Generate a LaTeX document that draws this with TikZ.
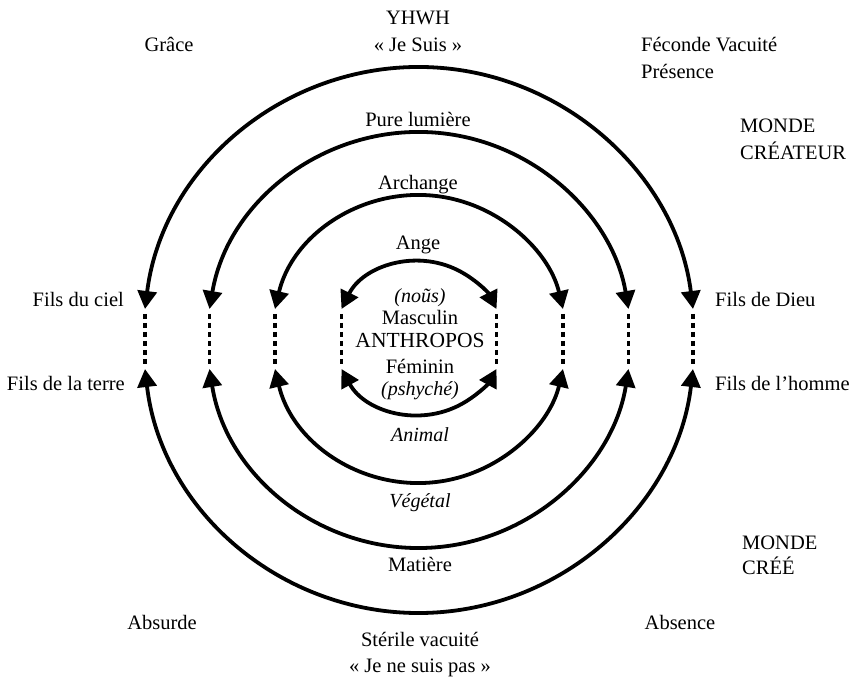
\documentclass[tikz,border=0pt]{standalone}
\usepackage{fontspec}
\setmainfont{Liberation Serif}
\usetikzlibrary{arrows.meta}
\begin{document}
\begin{tikzpicture}[x=1pt,y=1pt,
  ring/.style={line width=3.8pt, {Triangle[length=18pt,width=19pt]}-{Triangle[length=18pt,width=19pt]}},
  dotline/.style={line width=3.8pt, dash pattern=on 5pt off 4pt, shorten <=5pt, shorten >=5pt},
  lbl/.style={inner sep=0pt, font=\fontsize{20.5}{24}\selectfont},
  itl/.style={inner sep=0pt, font=\fontsize{20}{24}\selectfont\itshape},
  big/.style={inner sep=0pt, font=\fontsize{21.5}{26}\selectfont}]
\useasboundingbox (0,0) rectangle (860,680);
% ring end points
\coordinate (TL1) at (145,371);   \coordinate (TR1) at (693,371);
\coordinate (BL1) at (145,311);   \coordinate (BR1) at (693,311);
\coordinate (TL2) at (209.5,371); \coordinate (TR2) at (628.5,371);
\coordinate (BL2) at (209.5,311); \coordinate (BR2) at (628.5,311);
\coordinate (TL3) at (275,371);   \coordinate (TR3) at (563,371);
\coordinate (BL3) at (275,311);   \coordinate (BR3) at (563,311);
\coordinate (TL4) at (341.5,371); \coordinate (TR4) at (496.5,371);
\coordinate (BL4) at (341.5,311); \coordinate (BR4) at (496.5,311);
% upper arcs
\draw[ring] (TL1) arc[start angle=172.90, end angle=7.10, radius=276.12];
\draw[ring] (TL2) arc[start angle=170.39, end angle=9.61, radius=212.48];
\draw[ring] (TL3) arc[start angle=166.73, end angle=13.27, radius=147.95];
\draw[ring] (TL4) arc[start angle=153.54, end angle=26.46, radius=86.57];
% lower arcs
\draw[ring] (BL1) arc[start angle=186.63, end angle=353.37, radius=275.84];
\draw[ring] (BL2) arc[start angle=188.98, end angle=351.02, radius=212.10];
\draw[ring] (BL3) arc[start angle=193.27, end angle=346.73, radius=147.95];
\draw[ring] (BL4) arc[start angle=208.62, end angle=331.38, radius=88.29];
% dotted links
\foreach \i in {1,2,3,4}{
  \draw[dotline] (TL\i) -- (BL\i);
  \draw[dotline] (TR\i) -- (BR\i);
}
% top texts
\node[lbl, anchor=base] (yhwh) at (418,655) {YHWH};
\node[lbl, anchor=base] (jesuis) at (418,628) {« Je Suis »};
\node[lbl, anchor=base] (grace) at (169,628) {Grâce};
\node[lbl, anchor=base west] (feconde) at (641,628) {Féconde Vacuité};
\node[lbl, anchor=base west] (presence) at (641,601) {Présence};
\node[lbl, anchor=base west] (monde1) at (740,547) {MONDE};
\node[lbl, anchor=base west] (createur) at (740,520) {CRÉATEUR};
% ring labels
\node[lbl, anchor=base] (pure) at (418,553) {Pure lumière};
\node[lbl, anchor=base] (archange) at (418,490) {Archange};
\node[lbl, anchor=base] (ange) at (418,430) {Ange};
\node[itl, anchor=base] (nous) at (420,377) {(noũs)};
\node[lbl, anchor=base] (masc) at (420,355) {Masculin};
\node[big, anchor=base] (anthr) at (420,332) {ANTHROPOS};
\node[lbl, anchor=base] (fem) at (420,306) {Féminin};
\node[itl, anchor=base] (psy) at (420,284) {(pshyché)};
\node[itl, anchor=base] (animal) at (420,238) {Animal};
\node[itl, anchor=base] (vegetal) at (420,172) {Végétal};
\node[lbl, anchor=base] (matiere) at (420,108) {Matière};
% bottom texts
\node[lbl, anchor=base] (sterile) at (420,33) {Stérile vacuité};
\node[lbl, anchor=base] (jenesuis) at (420,7) {« Je ne suis pas »};
\node[lbl, anchor=base] (absurde) at (162,50) {Absurde};
\node[lbl, anchor=base] (absence) at (680,50) {Absence};
\node[lbl, anchor=base west] (monde2) at (742,130) {MONDE};
\node[lbl, anchor=base west] (cree) at (742,105) {CRÉÉ};
% side texts
\node[lbl, anchor=base east] (ciel) at (124,373) {Fils du ciel};
\node[lbl, anchor=base east] (terre) at (125,289) {Fils de la terre};
\node[lbl, anchor=base west] (dieu) at (715,373) {Fils de Dieu};
\node[lbl, anchor=base west] (homme) at (715,289) {Fils de l’homme};
\end{tikzpicture}
\end{document}
